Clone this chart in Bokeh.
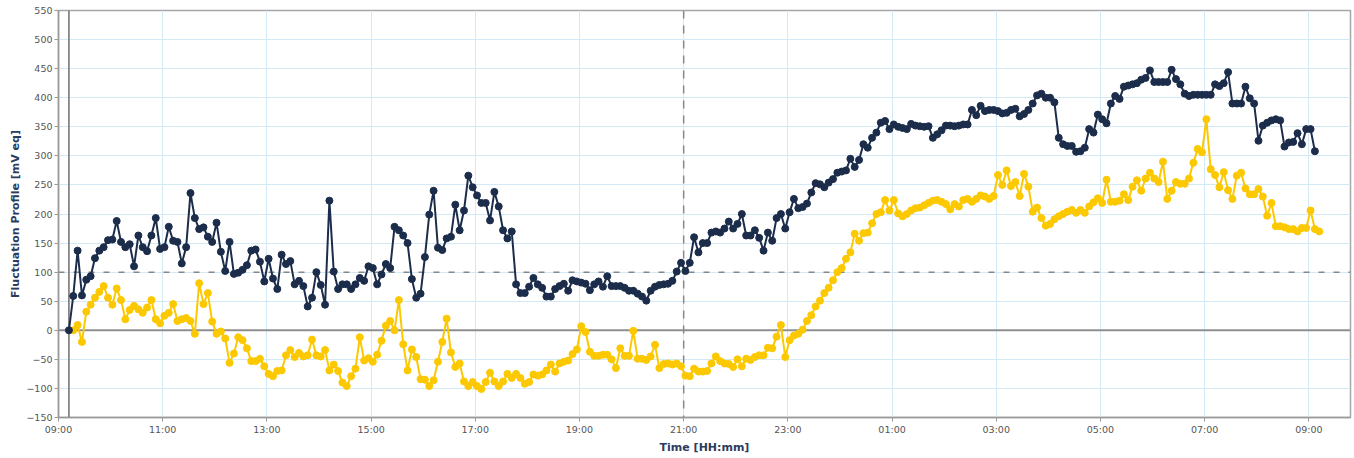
from bokeh.plotting import figure
from bokeh.models import Range1d, FixedTicker, Span
from bokeh.embed import file_html
from bokeh.resources import INLINE

# ---- data ----
step_h = 5 / 60.0               # one reading every 5 minutes
dark_start_h = 9 + 12 / 60.0    # 09:12
yellow_start_h = 9 + 17 / 60.0  # 09:17

dark_values = [
    0, 59, 137, 60, 87, 93, 124, 137, 143, 155, 156, 188, 152, 143, 148, 110, 163, 143, 136, 163,
    193, 140, 143, 178, 154, 152, 115, 143, 236, 193, 174, 177, 161, 152, 185, 135, 102, 152, 97, 99,
    104, 112, 137, 139, 118, 84,
    123, 89, 71, 130, 114, 119, 79, 85, 76, 41, 56, 100, 78, 44, 223, 101, 71, 79, 79, 71,
    79, 90, 85, 110, 107, 79, 96, 114, 107, 178, 172, 163, 150, 88, 56, 63, 126, 199, 240, 142,
    138, 158, 161, 216, 172, 206, 266,
    246, 232, 219, 219, 189, 238, 213, 172, 158, 170, 79, 64, 64, 75, 90, 79, 73, 58, 58, 71,
    76, 80, 68, 86, 84, 82, 80, 69, 79, 84, 75, 93, 76, 76, 76, 73, 68, 68, 63, 58,
    51, 68, 75, 78, 79, 80, 85, 101, 116, 102, 116,
    160, 134, 150, 150, 168, 170, 168, 175, 187, 175, 183, 200, 163, 163, 172, 159, 137, 168, 154, 193,
    200, 175, 203, 226, 210, 212, 218, 237, 253, 251, 246, 254, 260, 271, 273, 275, 295, 281, 293, 320,
    314, 331, 340, 357, 360,
    346, 354, 350, 348, 346, 355, 352, 351, 350, 351, 331, 337, 344, 352, 352, 351, 352, 354, 354, 379,
    370, 386, 377, 379, 379, 377, 373, 374, 379, 381, 368, 372, 379, 390, 404, 407, 400, 400, 392, 331,
    320, 317, 317, 307, 308, 314, 346, 340, 371, 363,
    356, 390, 403, 398, 419, 421, 423, 425, 431, 434, 447, 427, 427, 427, 427, 448, 432, 423, 407, 403,
    405, 405, 405, 405, 405, 423, 420, 425, 444, 390, 390, 390, 419, 399, 390, 326, 352, 357, 361, 363,
    361, 316, 323, 324, 339, 320, 346, 346, 308,
]

yellow_values = [
    0, 9, -20, 32, 44, 56, 66, 76, 56, 44, 72, 52, 19, 35, 42, 36, 30, 39, 52, 19,
    12, 25, 30, 45, 16, 19, 21, 16, -6, 81, 45, 64, 15, -6, -2, -14, -56, -40, -12, -17,
    -31, -53, -53, -49, -62, -75, -79, -70, -69, -43, -34, -46, -39, -45, -43, -16, -43, -45, -34, -69,
    -59, -70, -90, -96,
    -79, -66, -12, -52, -48, -54, -42, -18, 8, 16, 0, 52, -24, -69, -33, -46, -84, -85, -96, -86,
    -54, -20, 20, -38, -63, -57, -88, -96,
    -89, -96, -101, -89, -73, -88, -96, -88, -75, -82, -75, -82, -92, -89, -76, -78, -76, -69, -59, -71,
    -57, -54, -52, -41, -33, 7, -3, -37, -44, -44, -42, -42, -50, -65, -31, -44, -44, -1, -49, -49,
    -51, -45, -25, -65, -58, -57, -59, -57, -62, -78, -79,
    -66, -71, -71, -70, -57, -45, -53, -57, -58, -63, -50, -62, -49, -51, -46, -43, -43, -30, -31, -11,
    9, -46, -17, -9, -6, 1, 16, 26, 41, 51, 64, 73, 86, 100, 107, 123, 134, 166, 154, 167,
    168, 184, 200, 203, 224, 206, 224,
    201, 196, 200, 206, 210, 211, 215, 219, 223, 224, 221, 217, 208, 217, 213, 224, 226, 221, 226, 232,
    230, 226, 231, 267, 250, 275, 248, 255, 231, 269, 247, 204, 211, 193, 180, 183, 191, 196, 200, 204,
    207, 202, 207, 202, 213, 220, 227, 219,
    259, 221, 221, 223, 234, 224, 247, 258, 240, 261, 271, 261, 255, 290, 226, 240, 255, 252, 252, 261,
    288, 312, 306, 363, 277, 267, 246, 272, 241, 226, 266, 271, 244, 234, 234, 243, 230, 197, 219, 179,
    179, 177, 174, 174, 170, 176, 176, 206, 174, 170,
]

x_tick_hours = [9, 11, 13, 15, 17, 19, 21, 23, 25, 27, 29, 31, 33]
x_tick_labels = ["09:00", "11:00", "13:00", "15:00", "17:00", "19:00", "21:00",
                 "23:00", "01:00", "03:00", "05:00", "07:00", "09:00"]
y_ticks = [-150, -100, -50, 0, 50, 100, 150, 200, 250, 300, 350, 400, 450, 500, 550]
marker_hour = 21          # dashed vertical marker
reference_level = 100     # dashed horizontal level

# ---- time axes of the series ----
dark_x = [dark_start_h + i * step_h for i in range(len(dark_values))]
yellow_x = [yellow_start_h + i * step_h for i in range(len(yellow_values))]

DARK = "#1c2d4b"
YELLOW = "#fcc800"
GRID = "#d3e9f5"
LABEL = "#2b3c5c"
FONT = "DejaVu Sans"

p = figure(width=1354, height=458, output_backend="svg", toolbar_location=None,
           x_range=Range1d(9, 33.8), y_range=Range1d(-150, 550),
           min_border_left=58, min_border_right=4, min_border_top=10, min_border_bottom=41)

p.background_fill_color = "white"
p.border_fill_color = "white"
p.outline_line_color = "#a6a6a6"
p.outline_line_width = 1.5

p.xaxis.ticker = FixedTicker(ticks=x_tick_hours)
p.xaxis.major_label_overrides = dict(zip(x_tick_hours, x_tick_labels))
p.yaxis.ticker = FixedTicker(ticks=y_ticks)
p.xgrid.ticker = FixedTicker(ticks=x_tick_hours)
p.ygrid.ticker = FixedTicker(ticks=y_ticks)
p.grid.grid_line_color = GRID
p.grid.grid_line_width = 1

for ax in (p.xaxis[0], p.yaxis[0]):
    ax.axis_line_color = "#999999"
    ax.axis_line_width = 1.5
    ax.major_tick_line_color = "#999999"
    ax.major_tick_in = 0
    ax.major_tick_out = 4
    ax.minor_tick_line_color = None
    ax.major_label_text_font = FONT
    ax.major_label_text_font_size = "9.5px"
    ax.major_label_text_color = "#555555"
    ax.axis_label_text_font = FONT
    ax.axis_label_text_font_size = "11px"
    ax.axis_label_text_font_style = "bold"
    ax.axis_label_text_color = LABEL

p.xaxis.axis_label = "Time [HH:mm]"
p.yaxis.axis_label = "Fluctuation Profile [mV eq]"
p.xaxis.major_label_standoff = 2
p.xaxis.axis_label_standoff = 3
p.yaxis.major_label_standoff = 2
p.yaxis.axis_label_standoff = 1

p.add_layout(Span(location=0, dimension="width", line_color="#8f8f8f",
                  line_width=2, level="underlay"))
p.add_layout(Span(location=reference_level, dimension="width", line_color="#555555",
                  line_width=1, line_dash="6 9", level="underlay"))
p.add_layout(Span(location=marker_hour, dimension="height", line_color="#888888",
                  line_width=1.5, line_dash="8 7", level="underlay"))
p.add_layout(Span(location=dark_start_h, dimension="height", line_color="#6e6e6e",
                  line_width=1.5, level="underlay"))

p.line(yellow_x, yellow_values, line_color=YELLOW, line_width=2)
p.scatter(yellow_x, yellow_values, size=7, fill_color=YELLOW, line_color=YELLOW)
p.line(dark_x, dark_values, line_color=DARK, line_width=2)
p.scatter(dark_x, dark_values, size=7, fill_color=DARK, line_color=DARK)

open("out.html", "w").write(file_html(p, INLINE))
